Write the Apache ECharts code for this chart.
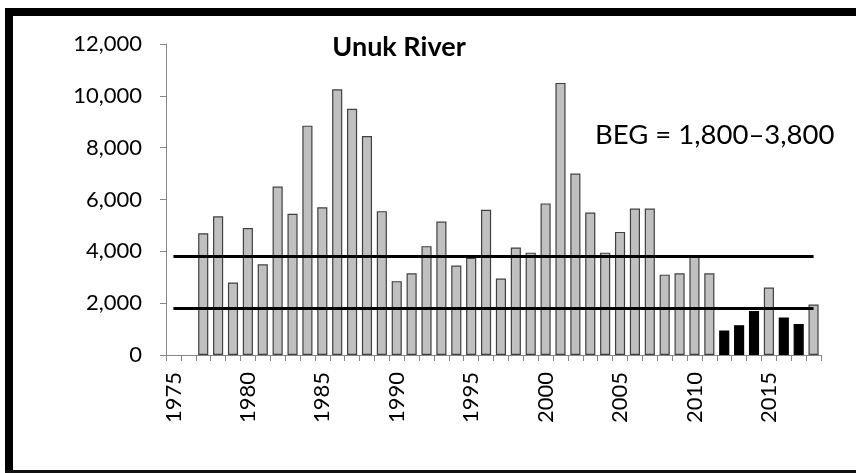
<!DOCTYPE html>
<html>
<head>
<meta charset="utf-8">
<script src="https://cdn.jsdelivr.net/npm/echarts@6/dist/echarts.min.js"></script>
<style>
html,body{margin:0;padding:0;background:#fff;}
#c{width:856px;height:473px;}
</style>
</head>
<body>
<div id="c"></div>
<script>
var years = ['1975','1976','1977','1978','1979','1980','1981','1982','1983','1984','1985','1986','1987','1988','1989','1990','1991','1992','1993','1994','1995','1996','1997','1998','1999','2000','2001','2002','2003','2004','2005','2006','2007','2008','2009','2010','2011','2012','2013','2014','2015','2016','2017','2018'];
var escapement = [null,null,4700,5350,2800,4900,3500,6500,5450,8850,5700,10250,9500,8450,5550,2850,3150,4200,5150,3450,3750,5600,2950,4150,3950,5850,10500,7000,5500,3950,4750,5650,5650,3100,3150,3800,3150,950,1150,1700,2600,1450,1200,1950];
var belowGoalYears = ['2012','2013','2014','2016','2017'];
var begLow = 1800;
var begHigh = 3800;
var yTicks = [0,2000,4000,6000,8000,10000,12000];

var FONT = 'Lato';
var barData = escapement.map(function(v, i){
  var black = belowGoalYears.indexOf(years[i]) >= 0;
  return {value: v, itemStyle: black ? {color:'#000', borderColor:'#000'} : {color:'#c0c0c0', borderColor:'#404040'}};
});

var chart = echarts.init(document.getElementById('c'), null, {renderer:'canvas'});
chart.setOption({
  animation:false,
  backgroundColor:'#fff',
  title:{text:'Unuk River', left:394, top:29, textAlign:'center',
    textStyle:{fontFamily:FONT, fontWeight:'bold', fontSize:27, color:'#000'}},
  grid:{left:166, right:35, top:44, bottom:118, containLabel:false},
  xAxis:{type:'category', data:years, boundaryGap:true,
    axisLine:{lineStyle:{color:'#868686', width:1}},
    axisTick:{show:true, interval:0, length:6, lineStyle:{color:'#868686'}},
    axisLabel:{interval:4, rotate:90, margin:17, fontFamily:FONT, fontSize:22, color:'#000'}},
  yAxis:{type:'value', min:yTicks[0], max:yTicks[yTicks.length-1], interval:2000,
    splitLine:{show:false},
    axisLine:{show:true, lineStyle:{color:'#868686', width:1}},
    axisTick:{show:true, length:6, lineStyle:{color:'#868686'}},
    axisLabel:{margin:24, fontFamily:FONT, fontSize:22, color:'#000',
      formatter:function(v){return v.toLocaleString('en-US');}}},
  series:[{
    type:'bar', data:barData, barCategoryGap:'32%',
    itemStyle:{borderWidth:1.2},
    markLine:{silent:true, symbol:'none', label:{show:false},
      lineStyle:{color:'#000', width:3, type:'solid'},
      data:[
        [{coord:[years[0], begHigh]},{coord:[years[years.length-1], begHigh]}],
        [{coord:[years[0], begLow]},{coord:[years[years.length-1], begLow]}]
      ]}
  }],
  graphic:[
    {type:'text', left:595, top:121, style:{text:'BEG = 1,800\u20133,800', fontFamily:FONT, fontSize:27.5, fill:'#000'}},
    {type:'rect', shape:{x:5, y:8, width:851, height:8}, style:{fill:'#000'}},
    {type:'rect', shape:{x:5, y:8, width:8, height:465}, style:{fill:'#000'}},
    {type:'rect', shape:{x:5, y:470, width:851, height:3}, style:{fill:'#111'}}
  ]
});
</script>
</body>
</html>
